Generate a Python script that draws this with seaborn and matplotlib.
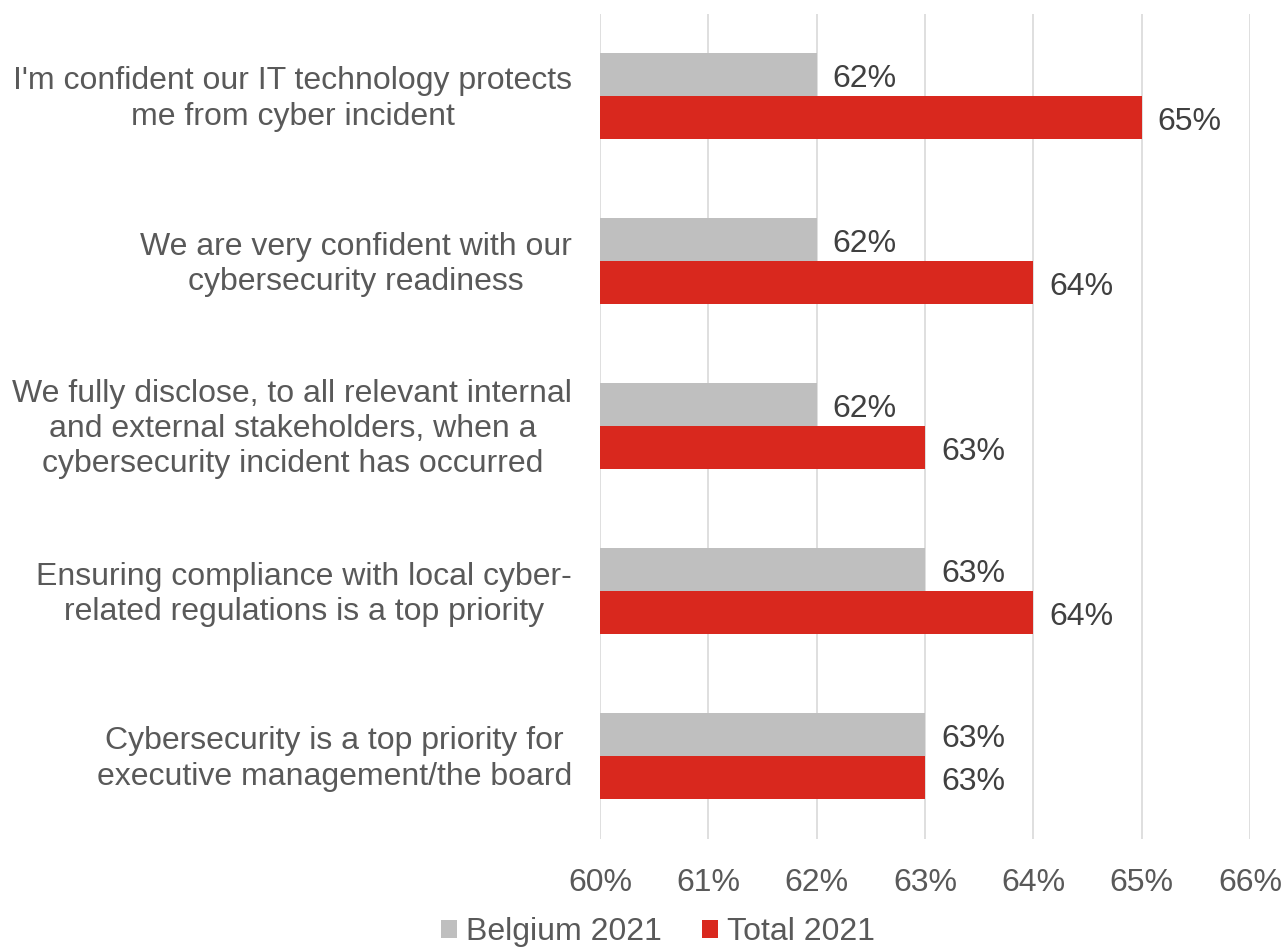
import matplotlib
matplotlib.use("Agg")
import matplotlib.pyplot as plt
import matplotlib.transforms as mtransforms
import seaborn as sns
import pandas as pd
from matplotlib.patches import Patch

categories = [
    "I'm confident our IT technology protects\nme from cyber incident",
    "We are very confident with our\ncybersecurity readiness",
    "We fully disclose, to all relevant internal\nand external stakeholders, when a\ncybersecurity incident has occurred",
    "Ensuring compliance with local cyber-\nrelated regulations is a top priority",
    "Cybersecurity is a top priority for\nexecutive management/the board",
]
belgium_2021 = [62, 62, 62, 63, 63]
total_2021 = [65, 64, 63, 64, 63]
series = ["Belgium 2021", "Total 2021"]
x_ticks = [60, 61, 62, 63, 64, 65, 66]

colors = {"Belgium 2021": "#BFBFBF", "Total 2021": "#D9281E"}
FS = 23

df = pd.DataFrame({
    "category": categories * 2,
    "value": belgium_2021 + total_2021,
    "series": [series[0]] * len(categories) + [series[1]] * len(categories),
})

sns.set_theme(style="white")
plt.rcParams["font.family"] = ["Liberation Sans", "DejaVu Sans"]

fig = plt.figure(figsize=(12.85, 9.52), dpi=100)
ax = fig.add_axes([600 / 1285, 1 - 838.5 / 952, 650 / 1285, 825 / 952])

sns.barplot(data=df, y="category", x="value", hue="series", order=categories,
            hue_order=series, palette=colors, orient="h", width=0.52,
            saturation=1, legend=False, ax=ax)

# bars start at the left edge of the axis (60%)
for bar in ax.patches:
    w = bar.get_width()
    bar.set_x(60)
    bar.set_width(w - 60)
    bar.set_linewidth(0)

for cont in ax.containers:
    anns = ax.bar_label(cont, labels=[f"{v:.0f}%" for v in cont.datavalues],
                        padding=11.5, fontsize=FS, color="#404040")
    for a in anns:
        a.xyann = (11.5, -3.5)

ax.set_xlim(60, 66)
ax.set_ylim(len(categories) - 0.5, -0.5)
ax.set_xticks(x_ticks)
ax.set_xticklabels([f"{t}%" for t in x_ticks], fontsize=FS, color="#595959")
ax.tick_params(axis="x", length=0, pad=21)
ax.tick_params(axis="y", length=0, pad=20)
lift = mtransforms.ScaledTranslation(0, 3 / 100, fig.dpi_scale_trans)
for lbl in ax.get_yticklabels():
    lbl.set_multialignment("center")
    lbl.set_fontsize(FS)
    lbl.set_color("#595959")
    lbl.set_linespacing(1.23)
    lbl.set_transform(lbl.get_transform() + lift)
ax.set_xlabel("")
ax.set_ylabel("")
ax.grid(axis="x", color="#D9D9D9", linewidth=1.2)
ax.set_axisbelow(True)
for s in ax.spines.values():
    s.set_visible(False)

handles = [Patch(facecolor=colors[s], edgecolor="none") for s in series]
fig.legend(handles, series, loc="center", bbox_to_anchor=(658 / 1285, 1 - 932 / 952),
           ncol=2, frameon=False, fontsize=FS, labelcolor="#595959",
           handlelength=0.5, handleheight=0.5, handletextpad=0.3,
           columnspacing=1.25, borderpad=0)

fig.savefig("out.png", dpi=100)
